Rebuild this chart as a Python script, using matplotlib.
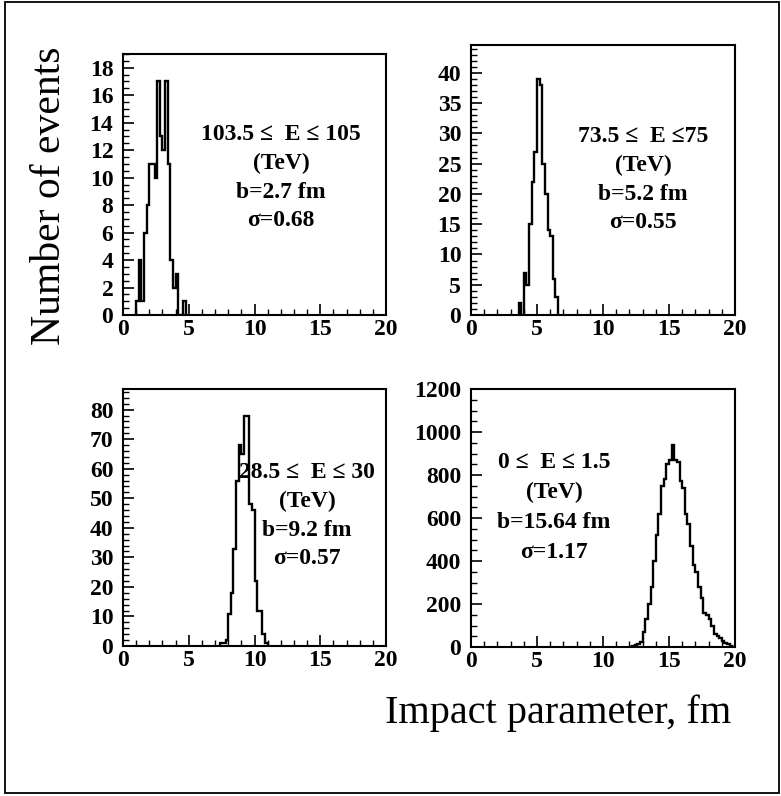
import matplotlib.pyplot as plt
from matplotlib.patches import Rectangle
from matplotlib.ticker import MultipleLocator
import numpy as np

# histogram contents, 0.2 fm bins
bin_width = 0.2

start_1 = 1.0
counts_1 = [1, 4, 1, 6, 8, 11, 11, 10, 17, 13, 12, 17, 11, 4, 2, 3, 0, 0, 1]

start_2 = 3.6
counts_2 = [2, 0, 7, 5, 15, 22, 27, 39, 38, 25, 20, 14, 13, 6, 3]

start_3 = 7.4
counts_3 = [1, 1, 2, 11, 18, 33, 56, 68, 65, 78, 78, 48, 46, 22, 12, 12, 4, 1]

start_4 = 12.0
counts_4 = [2, 5, 10, 15, 25, 70, 130, 200, 280, 400, 520, 620, 750, 780,
            850, 870, 940, 870, 860, 770, 740, 620, 570, 470, 380, 350, 280,
            230, 160, 150, 130, 100, 60, 50, 40, 30, 20, 12, 5, 2]

labels_1 = ['103.5 \u2264  E \u2264 105', '(TeV)', 'b=2.7 fm', '\u03c3=0.68']
labels_2 = ['73.5 \u2264  E \u226475', '(TeV)', 'b=5.2 fm', '\u03c3=0.55']
labels_3 = ['28.5 \u2264  E \u2264 30', '(TeV)', 'b=9.2 fm', '\u03c3=0.57']
labels_4 = ['0 \u2264  E \u2264 1.5', '(TeV)', 'b=15.64 fm', '\u03c3=1.17']

W, H = 781, 796
fig = plt.figure(figsize=(W / 100, H / 100), dpi=100)

serif = ['Liberation Serif', 'DejaVu Serif']


def box(left, top, right, bottom):
    return [left / W, 1 - bottom / H, (right - left) / W, (bottom - top) / H]


def panel(rect, start, counts, ymax, ymajor, yminor, labels, text_xy, step=29):
    ax = fig.add_axes(box(*rect))
    edges = start + bin_width * np.arange(len(counts) + 1)
    ax.stairs(counts, edges, color='black', linewidth=1.7, baseline=0)
    ax.set_xlim(0, 20)
    ax.set_ylim(0, ymax)
    ax.xaxis.set_major_locator(MultipleLocator(5))
    ax.xaxis.set_minor_locator(MultipleLocator(1))
    ax.yaxis.set_major_locator(MultipleLocator(ymajor))
    ax.yaxis.set_minor_locator(MultipleLocator(yminor))
    ax.tick_params(which='both', direction='in', top=False, right=False)
    ax.tick_params(which='major', length=8, width=1.2)
    ax.tick_params(which='minor', length=4, width=1)
    ax.tick_params(axis='x', pad=3)
    ax.tick_params(axis='y', pad=7)
    for lab in ax.get_xticklabels() + ax.get_yticklabels():
        lab.set_family(serif)
        lab.set_fontweight('bold')
        lab.set_fontsize(17)
    for s in ax.spines.values():
        s.set_linewidth(1.5)
    tx, ty = text_xy
    for i, line in enumerate(labels):
        fig.text(tx / W, 1 - (ty + step * i) / H, line, ha='center',
                 va='center', family=serif, fontweight='bold', fontsize=17)
    return ax


panel((123, 54, 386, 315), start_1, counts_1, 19, 2, 0.5, labels_1, (281, 134))
panel((471, 45, 735, 315), start_2, counts_2, 44.6, 5, 1, labels_2, (643, 136))
panel((123, 389, 386, 646), start_3, counts_3, 87, 10, 2, labels_3, (307, 472))
panel((471, 389, 735, 647), start_4, counts_4, 1200, 200, 50, labels_4,
      (554, 462), step=30)

fig.text(50 / W, 1 - 196 / H, 'Number of events', rotation=90, ha='center',
         va='center', family=serif, fontsize=30)
fig.text(558 / W, 1 - 713 / H, 'Impact parameter, fm', ha='center',
         va='center', family=serif, fontsize=29)

fig.patches.append(Rectangle((5 / W, 3 / H), 774 / W, 791 / H,
                             transform=fig.transFigure, fill=False,
                             edgecolor='black', linewidth=1.3))

fig.savefig('out.png', dpi=100)
